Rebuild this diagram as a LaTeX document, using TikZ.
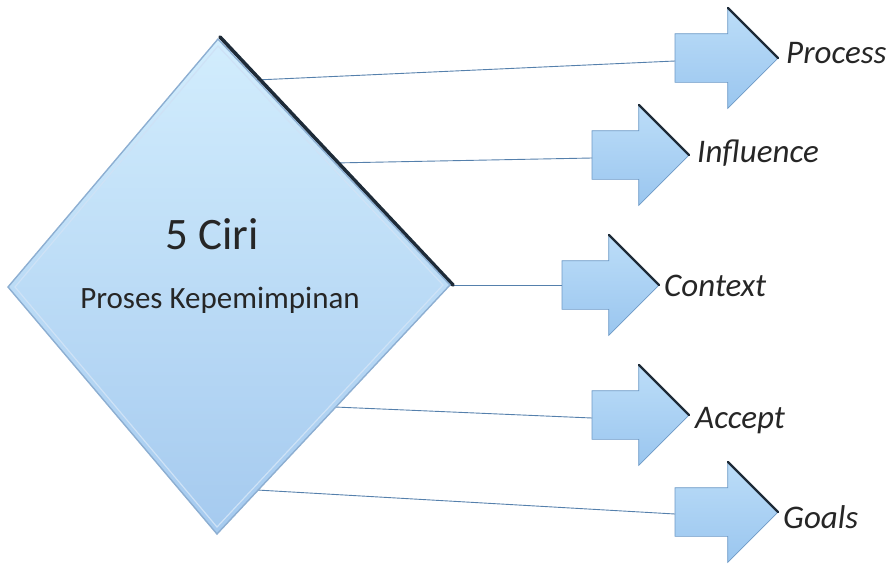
\documentclass[tikz,border=0pt]{standalone}
\usepackage{fontspec}
\setmainfont{Carlito}
\usetikzlibrary{shapes.arrows,calc}

\definecolor{dtop}{HTML}{D2EDFD}
\definecolor{dbot}{HTML}{A5CAEF}
\definecolor{dedge}{HTML}{8DAFD2}
\definecolor{dshade}{HTML}{1E2B38}
\definecolor{atop}{HTML}{BCDDF8}
\definecolor{abot}{HTML}{9AC6EF}
\definecolor{aedge}{HTML}{6E9AC6}
\definecolor{connc}{HTML}{5580AC}
\definecolor{txt}{HTML}{262626}

\begin{document}
\begin{tikzpicture}[x=1pt,y=-1pt,
  conn/.style={draw=connc, line width=0.9pt},
  arrowbox/.style={single arrow, single arrow head extend=26pt,
    single arrow tip angle=90, inner xsep=0pt, inner ysep=24pt,
    minimum height=103pt, outer sep=0pt, anchor=tail,
    top color=atop, bottom color=abot, draw=aedge, line width=0.7pt},
  shortarrow/.style={arrowbox, minimum height=97pt},
  headshade/.style={draw=dshade, line width=2.4pt, line cap=round},
  lab/.style={font=\fontsize{33}{40}\selectfont\itshape, inner sep=0pt,
    text=txt, anchor=base west}
]
\useasboundingbox (0,0) rectangle (896,563);

% corners of the central diamond
\coordinate (dT) at (218,39);
\coordinate (dR) at (450,285);
\coordinate (dB) at (217,534);
\coordinate (dL) at (8,287);

% start points of the connectors on the diamond's right edges
\coordinate (sP) at (256,80);
\coordinate (sI) at (334,163);
\coordinate (sC) at (448,285);
\coordinate (sA) at (335,407);
\coordinate (sG) at (257,490);

% block arrows, placed by their tails
\node[arrowbox] (aP) at (675,58) {};
\node[shortarrow] (aI) at (592,155) {};
\node[shortarrow] (aC) at (562,285) {};
\node[shortarrow] (aA) at (592,415) {};
\node[arrowbox] (aG) at (675,512) {};

% dark edge on each arrow head
\foreach \a in {aP,aI,aC,aA,aG}{
  \draw[headshade] ($(\a.tip)+(-50pt,50pt)$) -- (\a.tip);
}

% connectors
\draw[conn] (sP) -- ($(aP.tail)+(0,-3pt)$);
\draw[conn] (sI) -- ($(aI.tail)+(0,-3pt)$);
\draw[conn] (sC) -- (aC.tail);
\draw[conn] (sA) -- ($(aA.tail)+(0,-3pt)$);
\draw[conn] (sG) -- ($(aG.tail)+(0,-2pt)$);

% diamond with bevel and shadowed upper-right edge
\draw[headshade, line width=3.6pt] ($(dT)+(2,-2)$) -- ($(dR)+(3,0)$);
\fill[top color=dtop, bottom color=dbot] (dT) -- (dR) -- (dB) -- (dL) -- cycle;
\draw[dedge, line width=1.4pt, line join=miter] (dT) -- (dR) -- (dB) -- (dL) -- cycle;
\draw[white!45!dbot, line width=1.2pt]
  ($(dT)+(0,7)$) -- ($(dR)+(-7,0)$) -- ($(dB)+(0,-7)$) -- ($(dL)+(7,0)$) -- cycle;

% diamond texts
\node[anchor=base, inner sep=0pt, text=txt, font=\fontsize{45}{54}\selectfont]
  (t1) at (212,249) {5 Ciri};
\node[anchor=base, inner sep=0pt, text=txt, font=\fontsize{31}{37}\selectfont]
  (t2) at (220,308) {Proses Kepemimpinan};

% labels
\node[lab] (lP) at (786,63) {Process};
\node[lab] (lI) at (697,162) {Influence};
\node[lab] (lC) at (664,296) {Context};
\node[lab] (lA) at (695,428) {Accept};
\node[lab] (lG) at (783,528) {Goals};
\end{tikzpicture}
\end{document}
